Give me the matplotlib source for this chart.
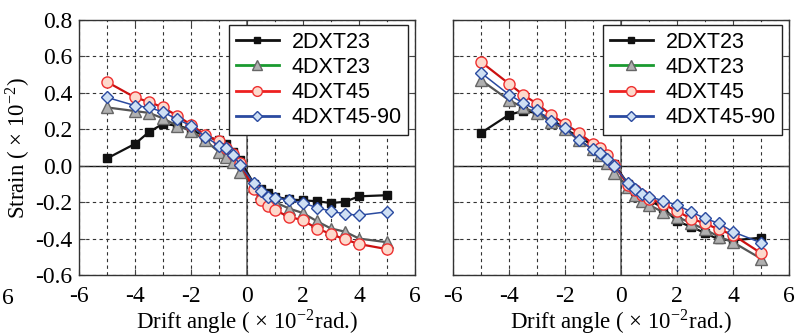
import matplotlib
matplotlib.use('Agg')
import matplotlib.pyplot as plt
from matplotlib.lines import Line2D

plt.rcParams['font.family'] = ['Liberation Serif', 'DejaVu Serif']
plt.rcParams['mathtext.fontset'] = 'stix'
plt.rcParams['axes.unicode_minus'] = False

# drift angle (x 10^-2 rad.)
drift = [-5, -4, -3.5, -3, -2.5, -2, -1.5, -1, -0.75, -0.5, -0.25,
         0.25, 0.5, 0.75, 1, 1.5, 2, 2.5, 3, 3.5, 4, 5]

names = ['2DXT23', '4DXT23', '4DXT45', '4DXT45-90']

# left panel strain (x 10^-2)
left_2dxt23 = [0.04, 0.12, 0.185, 0.23, 0.22, 0.20, 0.16, 0.14, 0.12, 0.077, 0.03,
               -0.10, -0.13, -0.15, -0.17, -0.185, -0.19, -0.195, -0.205, -0.198, -0.168, -0.162]
left_4dxt23 = [0.32, 0.30, 0.29, 0.26, 0.22, 0.19, 0.14, 0.075, 0.05, 0.02, -0.033,
               -0.11, -0.15, -0.17, -0.20, -0.235, -0.26, -0.305, -0.345, -0.362, -0.40, -0.42]
left_4dxt45 = [0.46, 0.375, 0.35, 0.32, 0.275, 0.225, 0.17, 0.135, 0.10, 0.065, 0.015,
               -0.13, -0.19, -0.22, -0.245, -0.28, -0.30, -0.345, -0.375, -0.405, -0.43, -0.458]
left_4dxt4590 = [0.375, 0.33, 0.32, 0.295, 0.255, 0.22, 0.16, 0.11, 0.10, 0.06, 0.005,
                 -0.095, -0.14, -0.17, -0.175, -0.19, -0.205, -0.23, -0.25, -0.265, -0.272, -0.253]

# right panel strain (x 10^-2)
right_2dxt23 = [0.18, 0.28, 0.30, 0.29, 0.26, 0.20, 0.16, 0.11, 0.08, 0.05, 0.01,
                -0.10, -0.14, -0.17, -0.19, -0.23, -0.305, -0.335, -0.37, -0.405, -0.41, -0.395]
right_4dxt23 = [0.47, 0.36, 0.32, 0.29, 0.24, 0.20, 0.14, 0.09, 0.06, 0.015, -0.038,
                -0.115, -0.16, -0.195, -0.215, -0.255, -0.28, -0.315, -0.35, -0.39, -0.42, -0.51]
right_4dxt45 = [0.57, 0.45, 0.39, 0.34, 0.28, 0.23, 0.18, 0.12, 0.095, 0.06, 0.005,
                -0.105, -0.135, -0.16, -0.18, -0.21, -0.25, -0.29, -0.317, -0.35, -0.38, -0.48]
right_4dxt4590 = [0.51, 0.39, 0.345, 0.305, 0.245, 0.205, 0.14, 0.09, 0.07, 0.035, 0.0,
                  -0.095, -0.13, -0.155, -0.17, -0.192, -0.216, -0.253, -0.289, -0.317, -0.363, -0.423]

styles = [
    dict(color='#111111', lw=1.6, marker='s', ms=6, mfc='#111111', mec='#111111'),
    dict(color='#555555', lw=1.6, marker='^', ms=8, mfc='#b0b0b0', mec='#666666'),
    dict(color='#cc1010', lw=1.6, marker='o', ms=8, mfc='#fdd9cc', mec='#ee3030'),
    dict(color='#2a4aa0', lw=1.1, marker='D', ms=6.5, mfc='#cfe0f4', mec='#2a4aa0'),
]
legend_colors = ['#111111', '#1a9a30', '#ee2020', '#2a4aa0']

fig = plt.figure(figsize=(8.07, 3.36), dpi=100)
ax1 = fig.add_axes([79 / 807, 1 - 275 / 336, 336 / 807, 255 / 336])
ax2 = fig.add_axes([453 / 807, 1 - 275 / 336, 336 / 807, 255 / 336])

panels = [(ax1, [left_2dxt23, left_4dxt23, left_4dxt45, left_4dxt4590]),
          (ax2, [right_2dxt23, right_4dxt23, right_4dxt45, right_4dxt4590])]

for ax, series in panels:
    ax.set_xlim(-6, 6)
    ax.set_ylim(-0.6, 0.8)
    ax.set_xticks([-6, -4, -2, 0, 2, 4, 6])
    ax.set_xticks(range(-6, 7), minor=True)
    ax.set_yticks([-0.6, -0.4, -0.2, 0.0, 0.2, 0.4, 0.6, 0.8])
    ax.grid(True, which='both', color='#333333', linestyle=(0, (3, 3)), linewidth=0.8)
    ax.axhline(0, color='#111111', lw=1.0, zorder=1.5)
    ax.axvline(0, color='#666666', lw=1.2, zorder=1.5)
    for s, st in zip(series, styles):
        ax.plot(drift, s, zorder=3, **st)
    ax.tick_params(which='both', direction='in', top=True, right=True, labelsize=17, pad=8)
    ax.tick_params(which='minor', length=0)
    ax.tick_params(which='major', length=4, color='#444444')
    for sp in ax.spines.values():
        sp.set_color('#333333')
        sp.set_linewidth(1.0)
    ax.set_xlabel('Drift angle ( × 10$^{\\mathregular{-2}}$rad.)', fontsize=16.5, labelpad=0)

    handles = [Line2D([], [], color=c, lw=2, marker=st['marker'], ms=st['ms'] - 1,
                      mfc=st['mfc'], mec=st['mec'])
               for c, st in zip(legend_colors, styles)]
    leg = ax.legend(handles, names, loc='upper right', bbox_to_anchor=(0.98, 0.98),
                    prop={'family': 'Liberation Sans', 'size': 15.5}, frameon=True,
                    fancybox=False, edgecolor='#222222', framealpha=1,
                    handlelength=2.0, handletextpad=0.6, labelspacing=0.2,
                    borderpad=0.3, borderaxespad=0)
    leg.get_frame().set_linewidth(1.0)

ax1.yaxis.set_major_formatter(matplotlib.ticker.FormatStrFormatter('%.1f'))
ax1.tick_params(axis='y', pad=5)
ax1.set_ylabel('Strain ( × 10$^{\\mathregular{-2}}$)', fontsize=16.5, labelpad=2)
ax2.set_yticklabels([])

# tick label of a neighbouring panel at the image edge
fig.text(2 / 807, 1 - 298 / 336, '6', fontsize=17, ha='left', va='center')

fig.savefig('out.png', dpi=100)
